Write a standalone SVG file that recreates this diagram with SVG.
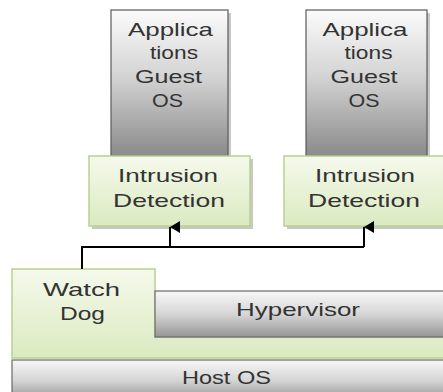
<svg xmlns="http://www.w3.org/2000/svg" width="443" height="392" viewBox="0 0 443 392">
  <defs>
    <linearGradient id="grayV" x1="0" y1="0" x2="0" y2="1">
      <stop offset="0" stop-color="#fbfbfb"/>
      <stop offset="0.45" stop-color="#d4d4d4"/>
      <stop offset="1" stop-color="#8a8a8a"/>
    </linearGradient>
    <linearGradient id="grayBar" x1="0" y1="0" x2="0" y2="1">
      <stop offset="0" stop-color="#f7f7f7"/>
      <stop offset="0.5" stop-color="#d6d6d6"/>
      <stop offset="1" stop-color="#959595"/>
    </linearGradient>
    <linearGradient id="green" x1="0" y1="0" x2="0" y2="1">
      <stop offset="0" stop-color="#f5f9ec"/>
      <stop offset="1" stop-color="#dbeac0"/>
    </linearGradient>
    <marker id="arrow" viewBox="0 0 12 10" refX="6" refY="0" markerWidth="12" markerHeight="10" markerUnits="userSpaceOnUse" orient="auto-start-reverse">
      <path d="M0,10 L6,0 L12,10 Z" fill="#000"/>
    </marker>
  </defs>
  <style>
    .shadow { fill: #9a9a9a; opacity: 0.55; }
    .gray { fill: url(#grayV); stroke: #5a5a5a; stroke-width: 1.2; }
    .bar { fill: url(#grayBar); stroke: #6a6a6a; stroke-width: 1.2; }
    .grn { fill: url(#green); stroke: #b9d18f; stroke-width: 1.5; }
    .lbl { font-family: "Liberation Sans", Arial, sans-serif; font-size: 19px; fill: #333; text-anchor: middle; }
    .conn { fill: none; stroke: #000; stroke-width: 2; }
  </style>

  <!-- guest VM 1 -->
  <g id="guest1">
    <rect class="shadow" x="114" y="13" width="117" height="146"/>
    <rect class="gray" x="111" y="10" width="117" height="146"/>
    <text class="lbl" x="170.5" y="36" textLength="85" lengthAdjust="spacingAndGlyphs">Applica</text>
    <text class="lbl" x="174" y="59" textLength="48" lengthAdjust="spacingAndGlyphs">tions</text>
    <text class="lbl" x="168.5" y="83" textLength="67" lengthAdjust="spacingAndGlyphs">Guest</text>
    <text class="lbl" x="167.5" y="107" textLength="31" lengthAdjust="spacingAndGlyphs">OS</text>
  </g>

  <!-- guest VM 2 -->
  <g id="guest2">
    <rect class="shadow" x="309" y="13" width="121" height="146"/>
    <rect class="gray" x="306" y="10" width="121" height="146"/>
    <text class="lbl" x="365" y="36" textLength="85" lengthAdjust="spacingAndGlyphs">Applica</text>
    <text class="lbl" x="368.5" y="59" textLength="48" lengthAdjust="spacingAndGlyphs">tions</text>
    <text class="lbl" x="364" y="83" textLength="67" lengthAdjust="spacingAndGlyphs">Guest</text>
    <text class="lbl" x="364" y="107" textLength="31" lengthAdjust="spacingAndGlyphs">OS</text>
  </g>

  <!-- intrusion detection 1 -->
  <g id="ids1">
    <rect class="shadow" x="92" y="159" width="161" height="70"/>
    <rect class="grn" x="89" y="156" width="161" height="70"/>
    <text class="lbl" x="168" y="182" textLength="100" lengthAdjust="spacingAndGlyphs">Intrusion</text>
    <text class="lbl" x="169" y="207" textLength="112" lengthAdjust="spacingAndGlyphs">Detection</text>
  </g>

  <!-- intrusion detection 2 -->
  <g id="ids2">
    <rect class="shadow" x="287" y="159" width="161" height="70"/>
    <rect class="grn" x="284" y="156" width="161" height="70"/>
    <text class="lbl" x="365" y="182" textLength="100" lengthAdjust="spacingAndGlyphs">Intrusion</text>
    <text class="lbl" x="364" y="207" textLength="112" lengthAdjust="spacingAndGlyphs">Detection</text>
  </g>

  <!-- host OS -->
  <g id="hostos">
    <rect class="bar" x="12" y="360" width="440" height="40"/>
    <text class="lbl" x="226.5" y="384" textLength="89" lengthAdjust="spacingAndGlyphs">Host OS</text>
  </g>

  <!-- watch dog (L-shaped, runs under the hypervisor) -->
  <g id="watchdog">
    <path class="grn" d="M12,269 H155 V337 H450 V358 H12 Z"/>
    <text class="lbl" x="81.5" y="296" textLength="77" lengthAdjust="spacingAndGlyphs">Watch</text>
    <text class="lbl" x="82.5" y="320" textLength="45" lengthAdjust="spacingAndGlyphs">Dog</text>
  </g>

  <!-- hypervisor -->
  <g id="hypervisor">
    <rect class="bar" x="155" y="291" width="295" height="46"/>
    <text class="lbl" x="298" y="316" textLength="124" lengthAdjust="spacingAndGlyphs">Hypervisor</text>
  </g>

  <!-- connectors -->
  <g id="connectors">
    <path class="conn" d="M82,269 V247 H364"/>
    <path class="conn" d="M170,247 V227" marker-end="url(#arrow)"/>
    <path class="conn" d="M364,247 V227" marker-end="url(#arrow)"/>
  </g>
</svg>
